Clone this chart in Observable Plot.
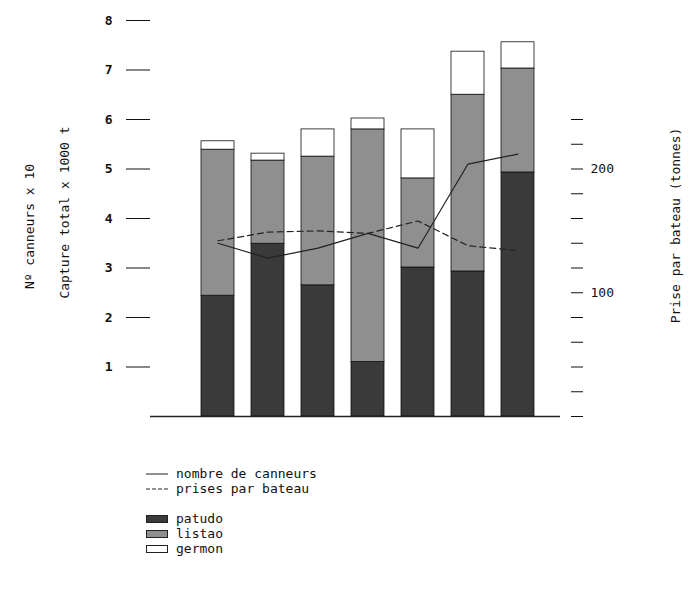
<!DOCTYPE html>
<html><head><meta charset="utf-8">
<script src="https://cdn.jsdelivr.net/npm/d3@7"></script>
<script src="https://cdn.jsdelivr.net/npm/@observablehq/plot@0.6"></script>
<style>
body{margin:0;background:#fff;font-family:"DejaVu Sans Mono",monospace;}
#legend{margin:26px 0 0 146px;font-size:13px;line-height:15px;color:#111}
#legend div{display:flex;align-items:center;gap:8px}
#legend .sw{width:22px;height:8px;box-sizing:border-box}
</style></head>
<body><main><figure style="margin:0"></figure><div id="legend"></div></main>
<script>
// bar categories (years, unlabelled in source)
let years = ["1","2","3","4","5","6","7"];
// capture x 1000 t, per species
let patudo = [2.44, 3.49, 2.65, 1.10, 3.01, 2.93, 4.93];
let listao = [2.95, 1.68, 2.60, 4.70, 1.80, 3.57, 2.10];
let germon = [0.17, 0.14, 0.55, 0.22, 0.99, 0.87, 0.53];
// nombre de canneurs x 10
let canneurs = [3.5, 3.2, 3.4, 3.7, 3.4, 5.1, 5.3];
// prises par bateau (tonnes)
let prises = [142, 149, 150, 148, 158, 138, 134];
let rightTicks = d3.range(0, 241, 20);
let tPerUnit = 40;

let species = [["patudo", patudo, "#3a3a3a"], ["listao", listao, "#8f8f8f"], ["germon", germon, "#fff"]];
let stack = [];
years.forEach((y, i) => species.forEach(([s, v]) => stack.push({year: y, species: s, value: v[i]})));

let colors = {patudo: "#3a3a3a", listao: "#8f8f8f", germon: "#ffffff"};

let chart = Plot.plot({
  width: 689,
  height: 440,
  marginTop: 20,
  marginBottom: 24,
  marginLeft: 150,
  marginRight: 129,
  style: {fontFamily: "DejaVu Sans Mono, monospace", fontSize: "13px", color: "#111"},
  x: {domain: years, range: [191, 543], paddingInner: 0.34, paddingOuter: 0.17, axis: null},
  y: {domain: [0, 8], axis: null},
  marks: [
    Plot.barY(stack, Plot.stackY({x: "year", y: "value", fill: d => colors[d.species], order: ["patudo", "listao", "germon"], stroke: "#111", strokeWidth: 0.8})),
    Plot.ruleY([0], {stroke: "#222", strokeWidth: 1.5}),
    Plot.axisY(d3.range(1, 9), {anchor: "left", tickSize: 24, tickPadding: 14, fontWeight: "bold", label: null, tickFormat: d => d}),
    Plot.axisY(rightTicks.map(t => t / tPerUnit), {anchor: "right", tickSize: 12, dx: 10, tickPadding: 8, label: null,
      tickFormat: v => { let t = Math.round(v * tPerUnit); return t === 100 || t === 200 ? t : ""; }}),
    Plot.line(canneurs, {x: (d, i) => years[i], y: d => d, stroke: "#222", strokeWidth: 1.2}),
    Plot.line(prises, {x: (d, i) => years[i], y: d => d / tPerUnit, stroke: "#222", strokeWidth: 1.2, strokeDasharray: "6,4"}),
    Plot.text(["Nº canneurs x 10"], {frameAnchor: "middle", dx: -326, dy: 8, rotate: -90, text: d => d}),
    Plot.text(["Capture total x 1000 t"], {frameAnchor: "middle", dx: -291, dy: -6, rotate: -90, text: d => d}),
    Plot.text(["Prise par bateau (tonnes)"], {frameAnchor: "middle", dx: 320, dy: 7, rotate: -90, text: d => d})
  ]
});
d3.select("figure").append(() => chart);

let leg = d3.select("#legend");
leg.append("div").html('<svg width="22" height="8"><line x1="0" x2="22" y1="4" y2="4" stroke="#222"/></svg><span>nombre de canneurs</span>');
leg.append("div").html('<svg width="22" height="8"><line x1="0" x2="22" y1="4" y2="4" stroke="#222" stroke-dasharray="4,2"/></svg><span>prises par bateau</span>');
leg.append("div").style("height", "15px");
species.forEach(([s, v, c]) => leg.append("div").html(`<span class="sw" style="background:${c};border:1px solid #222"></span><span>${s}</span>`));
</script></body></html>
